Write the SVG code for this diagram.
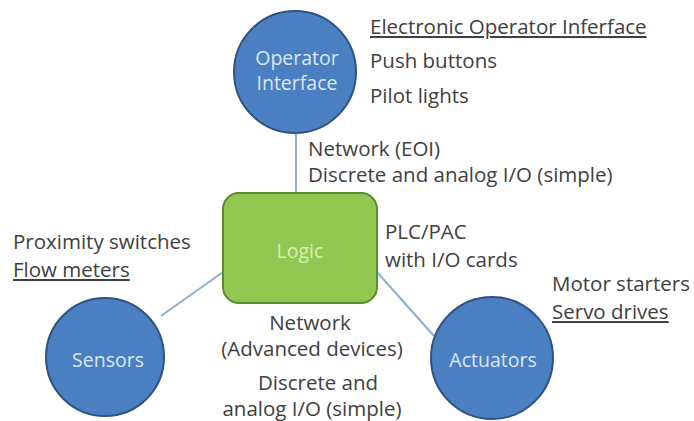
<svg xmlns="http://www.w3.org/2000/svg" width="694" height="421" viewBox="0 0 694 421">
<style>
.t{font-family:"Open Sans","Noto Sans",sans-serif;font-size:20.5px;fill:#404040}
.c{fill:#4a7fc1;stroke:#2f5280;stroke-width:2}
.cl{font-family:"Open Sans","Noto Sans",sans-serif;font-size:19.5px;fill:#dbe7f5;text-anchor:middle}
.u{text-decoration:underline}
.con{stroke:#8eaed0;stroke-width:2;fill:none}
</style>
<rect width="694" height="421" fill="#ffffff"/>
<g id="connectors">
<line class="con" x1="296" y1="133" x2="296" y2="193"/>
<line class="con" x1="161" y1="316" x2="223" y2="272"/>
<line class="con" x1="377" y1="272" x2="434" y2="336"/>
</g>
<g id="operator-interface">
<circle class="c" cx="295" cy="72" r="61"/>
<text class="cl" x="297" y="65">Operator</text>
<text class="cl" x="297" y="90">Interface</text>
</g>
<g id="logic">
<rect x="223" y="193" width="154" height="110" rx="16" fill="#92c851" stroke="#5d8c30" stroke-width="2"/>
<text class="cl" x="300" y="258" style="fill:#d6efb5">Logic</text>
</g>
<g id="sensors">
<circle class="c" cx="105" cy="357" r="59"/>
<text class="cl" x="108" y="367">Sensors</text>
</g>
<g id="actuators">
<circle class="c" cx="492" cy="358" r="61"/>
<text class="cl" x="493" y="367">Actuators</text>
</g>
<g id="labels">
<text class="t u" x="370" y="34">Electronic Operator Inferface</text>
<text class="t" x="370" y="68">Push buttons</text>
<text class="t" x="370" y="103">Pilot lights</text>
<text class="t" x="308" y="156">Network (EOI)</text>
<text class="t" x="308" y="182">Discrete and analog I/O (simple)</text>
<text class="t" x="13" y="249">Proximity switches</text>
<text class="t u" x="13" y="277">Flow meters</text>
<text class="t" x="385" y="239">PLC/PAC</text>
<text class="t" x="385" y="267">with I/O cards</text>
<text class="t" x="552" y="291">Motor starters</text>
<text class="t u" x="552" y="319">Servo drives</text>
<text class="t" x="310" y="330" text-anchor="middle">Network</text>
<text class="t" x="312" y="356" text-anchor="middle">(Advanced devices)</text>
<text class="t" x="318" y="390" text-anchor="middle">Discrete and</text>
<text class="t" x="312" y="416" text-anchor="middle">analog I/O (simple)</text>
</g>
</svg>
